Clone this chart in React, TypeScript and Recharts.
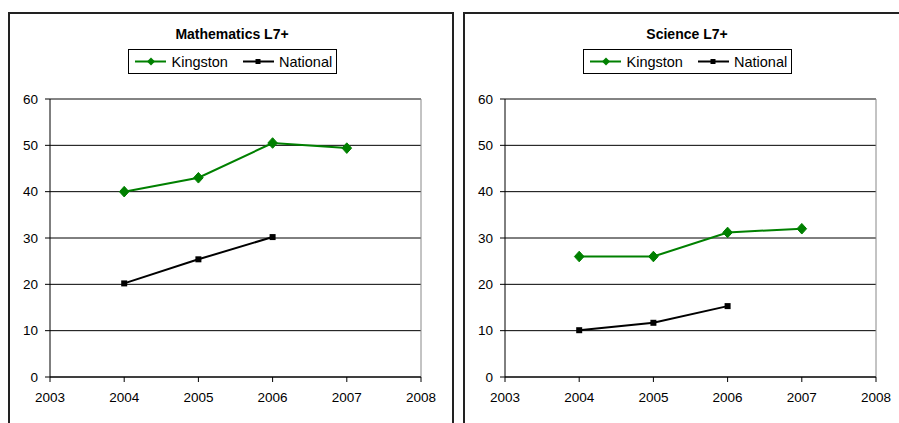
import { LineChart, Line, XAxis, YAxis, CartesianGrid, ReferenceLine } from 'recharts';

const years = [2004, 2005, 2006, 2007];
const xTicks = [2003, 2004, 2005, 2006, 2007, 2008];
const yTicks = [0, 10, 20, 30, 40, 50, 60];

const mathsKingston = [40, 43, 50.5, 49.4];
const mathsNational = [20.2, 25.4, 30.2];
const scienceKingston = [26, 26, 31.2, 32];
const scienceNational = [10.1, 11.7, 15.3];

const GREEN = '#008000';
const FONT = '"Liberation Sans", Arial, sans-serif';

const buildRows = (kingston: number[], national: number[]) =>
  years.map((year, i) => ({ year, kingston: kingston[i], national: national[i] }));

const Diamond = (props: any) => {
  const { cx, cy, index } = props;
  if (cx == null || cy == null) return <g key={`dk-${index}`} />;
  return (
    <path
      key={`dk-${index}`}
      d={`M${cx},${cy - 5.3}L${cx + 4.8},${cy}L${cx},${cy + 5.3}L${cx - 4.8},${cy}Z`}
      fill={GREEN}
      stroke={GREEN}
    />
  );
};

const Square = (props: any) => {
  const { cx, cy, index } = props;
  if (cx == null || cy == null) return <g key={`sq-${index}`} />;
  return <rect key={`sq-${index}`} x={cx - 3} y={cy - 3} width={6} height={6} fill="#000" />;
};

const Legend = ({ left }: { left: number }) => (
  <svg style={{ position: 'absolute', left, top: 49 }} width={210} height={26}>
    <rect x={0.5} y={0.5} width={208} height={24} fill="#fff" stroke="#000" />
    <line x1={7} y1={12.5} x2={38} y2={12.5} stroke={GREEN} strokeWidth={2} />
    <path d="M23,8.5L27,12.5L23,16.5L19,12.5Z" fill={GREEN} />
    <text x={43.5} y={18} fontSize={14.5} fontFamily={FONT} fill="#000">Kingston</text>
    <line x1={115} y1={12.5} x2={146} y2={12.5} stroke="#000" strokeWidth={2} />
    <rect x={127.5} y={10} width={5} height={5} fill="#000" />
    <text x={151} y={18} fontSize={14.5} fontFamily={FONT} fill="#000">National</text>
  </svg>
);

const Panel = ({ px, title, kingston, national }: { px: number; title: string; kingston: number[]; national: number[] }) => {
  const rows = buildRows(kingston, national);
  const tick = { fill: '#000', fontSize: 13.5, fontFamily: FONT };
  return (
    <>
      <div
        style={{
          position: 'absolute', left: px - 1, top: 12, width: 446, height: 430,
          border: '2px solid #222', boxSizing: 'border-box', background: '#fff',
        }}
      />
      <div
        style={{
          position: 'absolute', left: px, top: 27, width: 446, textAlign: 'center',
          fontFamily: FONT, fontWeight: 'bold', fontSize: 14, lineHeight: '14px', color: '#000',
        }}
      >
        {title}
      </div>
      <Legend left={px + 119} />
      <div style={{ position: 'absolute', left: px, top: 13 }}>
        <LineChart width={446} height={410} data={rows} margin={{ top: 86, right: 34, left: 0, bottom: 16 }}>
          <CartesianGrid horizontal vertical={false} stroke="#000" />
          <XAxis
            dataKey="year" type="number" domain={[2003, 2008]} ticks={xTicks} interval={0}
            height={30} tickSize={5} tickMargin={10} tick={tick}
            axisLine={{ stroke: '#000' }} tickLine={{ stroke: '#000' }}
          />
          <YAxis
            domain={[0, 60]} ticks={yTicks} interval={0} width={41}
            tickSize={5} tickMargin={7} tick={tick}
            axisLine={{ stroke: '#000' }} tickLine={{ stroke: '#000' }}
          />
          <ReferenceLine y={60} stroke="#888" />
          <ReferenceLine x={2008} stroke="#888" />
          <Line dataKey="kingston" stroke={GREEN} strokeWidth={2} dot={Diamond} activeDot={false} isAnimationActive={false} />
          <Line dataKey="national" stroke="#000" strokeWidth={2} dot={Square} activeDot={false} isAnimationActive={false} />
        </LineChart>
      </div>
    </>
  );
};

export default function App() {
  return (
    <div style={{ position: 'absolute', left: 0, top: 0, width: 899, height: 423, overflow: 'hidden', background: '#fff' }}>
      <Panel px={9} title="Mathematics L7+" kingston={mathsKingston} national={mathsNational} />
      <Panel px={464} title="Science L7+" kingston={scienceKingston} national={scienceNational} />
    </div>
  );
}
